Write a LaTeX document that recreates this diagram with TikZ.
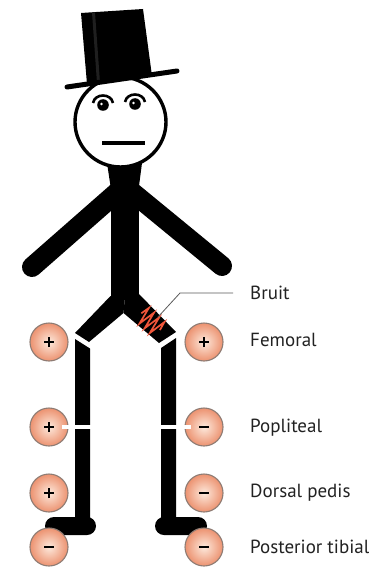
\documentclass[tikz,border=0pt]{standalone}
\usepackage{fontspec}
\setmainfont{PT Sans}
\definecolor{peachin}{HTML}{FDE9DC}
\definecolor{peachout}{HTML}{EC9270}
\definecolor{rimgray}{HTML}{8E7C74}
\definecolor{bruitred}{HTML}{F0563A}
\definecolor{leadgray}{HTML}{5A5A5A}
\definecolor{textgray}{HTML}{222222}
\begin{document}
\begin{tikzpicture}[x=1pt,y=-1pt,
  ink/.style={fill=black},
  limb/.style={draw=black, line width=20pt, line cap=round},
  gap/.style={draw=white, line width=4pt},
  pulse/.style={circle, minimum size=38pt, inner sep=0pt, draw=rimgray,
    line width=1.1pt, inner color=peachin, outer color=peachout},
  signline/.style={draw=black, line width=2.3pt},
  plussign/.style={pulse, path picture={
    \draw[signline] ([xshift=-5pt]path picture bounding box.center) -- ([xshift=5pt]path picture bounding box.center);
    \draw[signline] ([yshift=-5pt]path picture bounding box.center) -- ([yshift=5pt]path picture bounding box.center);}},
  minussign/.style={pulse, path picture={
    \draw[signline] ([xshift=-5pt]path picture bounding box.center) -- ([xshift=5pt]path picture bounding box.center);}},
  lbl/.style={font=\fontsize{19}{22}\selectfont, text=textgray, inner sep=0pt, anchor=base west},
  leader/.style={draw=leadgray, line width=0.8pt},
]
% canvas
\fill[white] (0,0) rectangle (369,575);
\useasboundingbox (0,0) rectangle (369,575);

% arms
\draw[limb] (122,188) -- (32,267);
\draw[limb] (127,188) -- (222,266);

% neck and torso
\fill[ink] (107,163) -- (142,163) -- (139,186) -- (110.5,186) -- cycle;
\fill[ink] (110.5,180) rectangle (139,300);

% upper legs
\fill[ink] (110.5,296) -- (75,333) -- (89,342) -- (123.5,313) -- (125,296) -- cycle;
\fill[ink] (125,296) -- (123.5,313) -- (159,343) -- (176,332) -- (139,294) -- cycle;

% lower legs and feet
\fill[ink] (75,339) -- (90,348.5) -- (90,525) -- (75,525) -- cycle;
\fill[ink] (176,338) -- (161,348) -- (161,525) -- (176,525) -- cycle;
\fill[ink, rounded corners=9pt] (45,517) rectangle (96,535);
\fill[ink, rounded corners=9pt] (155,517) rectangle (207,535);

% head
\draw[fill=white, line width=3.4pt] (120.5,122) ellipse[x radius=45.5pt, y radius=45pt];
% eyes
\fill (103,105) circle[radius=5.8pt];
\fill (135,104) circle[radius=5.8pt];
\fill[white] (101.5,104) circle[radius=1.4pt];
\fill[white] (133.5,103) circle[radius=1.4pt];
\draw[line width=2.6pt] (93,103) .. controls (95,93) and (111,93) .. (113,103);
\draw[line width=2.6pt] (125,102) .. controls (127,92) and (143,92) .. (145,102);
% mouth
\draw[line width=3.4pt] (102,143) -- (145,143);

% top hat
\fill[ink] (81,13) -- (143,9) -- (152,76) -- (87,84) -- cycle;
\fill[black!88] (92,12.5) -- (95,12.3) -- (100,82.5) -- (97,83) -- cycle;
\draw[line width=5pt, line cap=round] (67,87) -- (177,71);

% pulse sites, left leg
\node[plussign] (lfem) at (49,342) {};
\node[plussign] (lpop) at (49,427) {};
\node[plussign] (ldp) at (49,493) {};
\node[minussign] (lpt) at (49,547) {};
% pulse sites, right leg
\node[plussign] (rfem) at (204,342) {};
\node[minussign] (rpop) at (204,427) {};
\node[minussign] (rdp) at (204,493) {};
\node[minussign] (rpt) at (204,547) {};

% knee gaps
\draw[gap] ([xshift=-7pt]lpop.east) -- (92,427);
\draw[gap] (159,427) -- ([xshift=7pt]rpop.west);

% bruit over the right femoral artery
\begin{scope}[shift={(151,322)}, rotate=-42]
  \draw[bruitred, line width=1.7pt, line join=miter]
    (-13,0) -- (-11,-9) -- (-7.5,9) -- (-4,-9) -- (-0.5,9)
    -- (3,-9) -- (6.5,9) -- (10,-9) -- (12,0);
\end{scope}

% labels
\node[lbl] (tbruit) at (250,299) {Bruit};
\node[lbl] (tfem) at (250,346) {Femoral};
\node[lbl] (tpop) at (250,432) {Popliteal};
\node[lbl] (tdp) at (250,497) {Dorsal pedis};
\node[lbl] (tpt) at (250,553) {Posterior tibial};

% leader line for the bruit
\coordinate (bend) at (180,293);
\coordinate (btip) at (158,317);
\draw[leader] ([xshift=-17pt,yshift=6pt]tbruit.base west) -- (bend) -- (btip);
\end{tikzpicture}
\end{document}
